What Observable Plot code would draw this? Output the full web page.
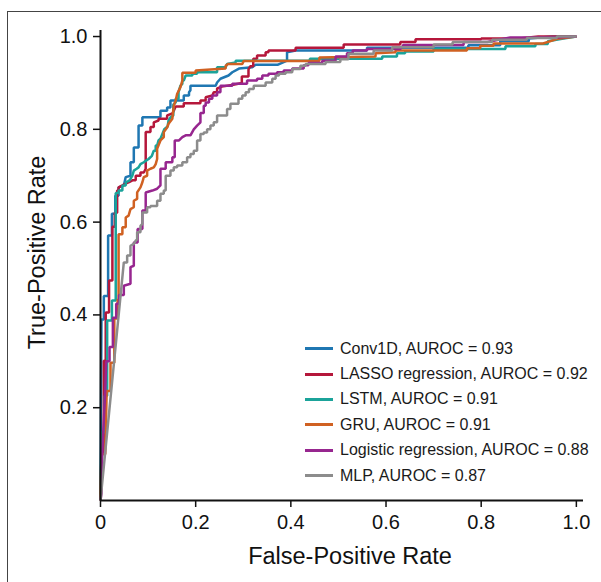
<!DOCTYPE html>
<html><head><meta charset="utf-8">
<script src="https://cdn.jsdelivr.net/npm/d3@7"></script>
<script src="https://cdn.jsdelivr.net/npm/@observablehq/plot@0.6"></script>
<style>
body{margin:0;background:#fff;}
#wrap{position:relative;width:601px;height:582px;overflow:hidden;font-family:"Liberation Sans",Arial,sans-serif;}
#border{position:absolute;left:7px;top:11px;width:800px;height:800px;border-left:1.5px solid #444;border-top:1.5px solid #444;pointer-events:none;}
#legend{position:absolute;left:305px;top:336px;}
.row{display:flex;align-items:center;height:25.4px;font-size:16px;color:#1a1a1a;white-space:nowrap;}
.sw{width:28px;height:3px;margin-right:7px;}
#chart{position:absolute;left:0;top:0;}
#chart svg g[aria-label$="tick label"]{font-size:20px !important;}
#chart svg g[aria-label$="tick label"] text{font-size:20px !important;}
</style></head>
<body><div id="wrap"><div id="chart"></div><div id="border"></div><div id="legend"></div></div>
<script>
const models = ["Conv1D","LASSO regression","LSTM","GRU","Logistic regression","MLP"];
const auroc = ["0.93","0.92","0.91","0.91","0.88","0.87"];
const colors = ["#1f77b2","#b5173b","#1ba39a","#d06122","#97268f","#8c8c8c"];
const xTicks = [0,0.2,0.4,0.6,0.8,1.0];
const yTicks = [0.2,0.4,0.6,0.8,1.0];

const conv1d = [[0,0],[0.002,0.39],[0.007,0.39],[0.007,0.441],[0.016,0.441],[0.016,0.571],[0.024,0.571],[0.024,0.618],[0.031,0.618],[0.031,0.657],[0.038,0.657],[0.038,0.675],[0.049,0.679],[0.053,0.697],[0.063,0.700],[0.063,0.729],[0.070,0.729],[0.070,0.761],[0.080,0.761],[0.080,0.808],[0.088,0.808],[0.088,0.826],[0.126,0.826],[0.126,0.840],[0.140,0.840],[0.140,0.847],[0.147,0.847],[0.147,0.862],[0.175,0.862],[0.175,0.873],[0.186,0.873],[0.186,0.880],[0.189,0.884],[0.189,0.894],[0.242,0.894],[0.245,0.901],[0.252,0.909],[0.269,0.916],[0.277,0.923],[0.291,0.931],[0.319,0.934],[0.326,0.939],[0.372,0.939],[0.392,0.948],[0.392,0.966],[0.410,0.970],[0.560,0.970],[0.560,0.976],[0.773,0.976],[0.773,0.981],[0.840,0.981],[0.840,0.990],[0.900,0.990],[0.900,0.996],[0.950,1],[1,1]];

const lasso = [[0,0],[0.002,0.10],[0.007,0.10],[0.007,0.301],[0.011,0.301],[0.011,0.405],[0.018,0.405],[0.018,0.474],[0.025,0.474],[0.025,0.590],[0.030,0.590],[0.030,0.620],[0.035,0.620],[0.035,0.668],[0.038,0.668],[0.038,0.675],[0.046,0.679],[0.053,0.683],[0.060,0.686],[0.067,0.690],[0.074,0.690],[0.074,0.700],[0.084,0.700],[0.084,0.707],[0.091,0.707],[0.095,0.715],[0.095,0.794],[0.105,0.794],[0.105,0.805],[0.112,0.805],[0.112,0.815],[0.122,0.819],[0.122,0.823],[0.140,0.823],[0.140,0.830],[0.151,0.834],[0.154,0.840],[0.158,0.849],[0.175,0.849],[0.175,0.856],[0.210,0.856],[0.210,0.862],[0.221,0.862],[0.221,0.869],[0.235,0.873],[0.238,0.880],[0.245,0.880],[0.245,0.888],[0.255,0.892],[0.279,0.896],[0.297,0.900],[0.297,0.914],[0.311,0.914],[0.311,0.929],[0.315,0.936],[0.321,0.936],[0.321,0.952],[0.329,0.952],[0.329,0.959],[0.347,0.959],[0.347,0.966],[0.353,0.966],[0.353,0.970],[0.410,0.970],[0.410,0.976],[0.511,0.976],[0.511,0.983],[0.630,0.983],[0.630,0.988],[0.662,0.988],[0.662,0.994],[0.800,0.994],[0.800,0.996],[0.880,0.996],[0.920,1],[1,1]];

const lstm = [[0,0],[0.002,0.147],[0.009,0.147],[0.009,0.226],[0.014,0.226],[0.014,0.388],[0.024,0.388],[0.024,0.431],[0.032,0.431],[0.032,0.663],[0.038,0.663],[0.038,0.668],[0.046,0.668],[0.046,0.679],[0.053,0.679],[0.053,0.686],[0.060,0.689],[0.063,0.693],[0.067,0.700],[0.070,0.711],[0.076,0.715],[0.080,0.718],[0.084,0.725],[0.091,0.729],[0.095,0.732],[0.101,0.736],[0.108,0.743],[0.112,0.754],[0.116,0.754],[0.116,0.765],[0.119,0.765],[0.122,0.776],[0.126,0.780],[0.130,0.790],[0.134,0.800],[0.141,0.806],[0.143,0.819],[0.147,0.826],[0.153,0.830],[0.153,0.853],[0.158,0.858],[0.158,0.866],[0.164,0.866],[0.164,0.880],[0.168,0.894],[0.172,0.898],[0.172,0.905],[0.175,0.905],[0.179,0.916],[0.193,0.916],[0.193,0.920],[0.203,0.920],[0.203,0.923],[0.245,0.923],[0.245,0.934],[0.263,0.934],[0.266,0.941],[0.284,0.944],[0.284,0.948],[0.440,0.948],[0.440,0.952],[0.592,0.952],[0.592,0.957],[0.623,0.957],[0.623,0.964],[0.640,0.964],[0.640,0.968],[0.700,0.968],[0.700,0.973],[0.851,0.973],[0.851,0.979],[0.914,0.979],[0.914,0.984],[0.940,0.984],[0.940,0.990],[0.970,0.995],[1,1]];

const gru = [[0,0],[0.002,0.10],[0.010,0.10],[0.013,0.236],[0.021,0.236],[0.021,0.297],[0.029,0.297],[0.029,0.392],[0.036,0.392],[0.036,0.433],[0.038,0.433],[0.038,0.574],[0.046,0.574],[0.046,0.589],[0.053,0.589],[0.053,0.610],[0.059,0.614],[0.063,0.628],[0.070,0.632],[0.070,0.646],[0.077,0.650],[0.077,0.664],[0.084,0.675],[0.088,0.686],[0.091,0.697],[0.098,0.700],[0.098,0.711],[0.105,0.715],[0.112,0.718],[0.116,0.725],[0.119,0.736],[0.119,0.758],[0.126,0.776],[0.133,0.783],[0.133,0.794],[0.140,0.804],[0.143,0.812],[0.151,0.823],[0.154,0.851],[0.158,0.862],[0.161,0.876],[0.168,0.891],[0.172,0.905],[0.172,0.922],[0.200,0.922],[0.200,0.927],[0.263,0.931],[0.263,0.937],[0.268,0.941],[0.298,0.941],[0.301,0.947],[0.460,0.947],[0.460,0.955],[0.578,0.957],[0.578,0.964],[0.620,0.966],[0.620,0.970],[0.770,0.970],[0.770,0.975],[0.798,0.975],[0.798,0.980],[0.826,0.980],[0.826,0.985],[0.930,0.985],[0.960,0.995],[1,1]];

const logistic = [[0,0],[0.002,0.015],[0.004,0.110],[0.010,0.237],[0.012,0.300],[0.019,0.300],[0.019,0.331],[0.026,0.331],[0.026,0.394],[0.033,0.394],[0.033,0.424],[0.039,0.424],[0.039,0.443],[0.049,0.443],[0.049,0.463],[0.063,0.467],[0.063,0.503],[0.070,0.506],[0.070,0.556],[0.078,0.556],[0.078,0.585],[0.088,0.585],[0.088,0.625],[0.095,0.625],[0.095,0.664],[0.109,0.668],[0.119,0.672],[0.126,0.679],[0.126,0.715],[0.137,0.715],[0.137,0.729],[0.151,0.729],[0.151,0.740],[0.156,0.740],[0.156,0.776],[0.165,0.776],[0.172,0.783],[0.179,0.787],[0.189,0.787],[0.196,0.800],[0.203,0.808],[0.210,0.815],[0.210,0.835],[0.217,0.835],[0.217,0.851],[0.221,0.851],[0.221,0.858],[0.228,0.858],[0.228,0.866],[0.235,0.866],[0.235,0.873],[0.245,0.873],[0.245,0.880],[0.252,0.880],[0.252,0.894],[0.277,0.894],[0.277,0.898],[0.308,0.898],[0.308,0.905],[0.329,0.905],[0.329,0.909],[0.340,0.909],[0.340,0.916],[0.353,0.916],[0.353,0.920],[0.371,0.920],[0.371,0.923],[0.385,0.923],[0.385,0.927],[0.403,0.927],[0.403,0.931],[0.427,0.931],[0.427,0.938],[0.437,0.938],[0.437,0.943],[0.466,0.943],[0.466,0.948],[0.494,0.948],[0.494,0.957],[0.518,0.957],[0.518,0.964],[0.530,0.964],[0.530,0.970],[0.560,0.970],[0.560,0.973],[0.630,0.973],[0.637,0.982],[0.763,0.982],[0.763,0.988],[0.813,0.988],[0.861,0.998],[0.956,0.998],[1,1]];

const mlp = [[0,0],[0.049,0.513],[0.056,0.513],[0.056,0.528],[0.063,0.528],[0.063,0.549],[0.070,0.553],[0.074,0.560],[0.077,0.563],[0.077,0.578],[0.084,0.578],[0.084,0.592],[0.088,0.596],[0.088,0.621],[0.098,0.621],[0.098,0.632],[0.105,0.632],[0.105,0.635],[0.119,0.635],[0.119,0.646],[0.126,0.646],[0.126,0.661],[0.133,0.661],[0.133,0.668],[0.137,0.668],[0.137,0.700],[0.147,0.700],[0.147,0.711],[0.154,0.711],[0.154,0.718],[0.161,0.718],[0.161,0.722],[0.172,0.722],[0.172,0.729],[0.182,0.729],[0.182,0.740],[0.189,0.740],[0.189,0.747],[0.196,0.747],[0.196,0.754],[0.203,0.754],[0.203,0.776],[0.210,0.776],[0.210,0.790],[0.217,0.790],[0.217,0.793],[0.224,0.793],[0.224,0.800],[0.231,0.800],[0.231,0.808],[0.238,0.808],[0.238,0.815],[0.245,0.815],[0.245,0.830],[0.266,0.830],[0.266,0.844],[0.273,0.844],[0.273,0.855],[0.290,0.855],[0.290,0.866],[0.298,0.866],[0.298,0.873],[0.305,0.873],[0.305,0.880],[0.312,0.880],[0.312,0.887],[0.322,0.887],[0.322,0.894],[0.347,0.894],[0.347,0.901],[0.361,0.901],[0.361,0.909],[0.368,0.909],[0.368,0.916],[0.375,0.916],[0.375,0.920],[0.389,0.920],[0.389,0.923],[0.403,0.923],[0.403,0.930],[0.420,0.930],[0.420,0.937],[0.431,0.937],[0.431,0.941],[0.473,0.941],[0.473,0.945],[0.504,0.945],[0.504,0.951],[0.521,0.951],[0.521,0.963],[0.574,0.963],[0.574,0.970],[0.613,0.970],[0.613,0.977],[0.700,0.977],[0.700,0.983],[0.740,0.983],[0.740,0.988],[0.823,0.988],[0.823,0.993],[0.896,0.993],[0.896,0.997],[0.959,0.997],[0.959,1],[1,1]];

const curves = [conv1d, lasso, lstm, gru, logistic, mlp];

const lineMarks = curves.map((c, i) =>
  Plot.line(c.map(([f, t]) => ({fpr: f, tpr: t})), {x: "fpr", y: "tpr", stroke: colors[i], strokeWidth: 2.5, strokeLinejoin: "miter", strokeLinecap: "butt"})
);

const chart = Plot.plot({
  width: 601, height: 582,
  marginLeft: 100, marginRight: 18, marginTop: 30, marginBottom: 82,
  x: {domain: [0, 1.015]},
  y: {domain: [0, 1.013]},
  style: {fontFamily: '"Liberation Sans", Arial, sans-serif', fontSize: "20px", background: "transparent", color: "#111"},
  marks: [
    ...lineMarks,
    Plot.axisX({ticks: xTicks, tickFormat: d => d === 0 ? "0" : d.toFixed(1), tickSize: 7, tickPadding: 7, fontSize: 20, label: null, strokeWidth: 1.5}),
    Plot.axisY({ticks: yTicks, tickFormat: d => d.toFixed(1), tickSize: 7, tickPadding: 6, fontSize: 20, label: null, strokeWidth: 1.5}),
    Plot.ruleY([0], {stroke: "#111", strokeWidth: 2}),
    Plot.ruleX([0], {stroke: "#111", strokeWidth: 2}),
    Plot.text(["False-Positive Rate"], {frameAnchor: "bottom", lineAnchor: "middle", textAnchor: "middle", dx: 8, dy: 56, fontSize: 23.5, fill: "#111"}),
    Plot.text(["True-Positive Rate"], {frameAnchor: "left", lineAnchor: "middle", textAnchor: "middle", rotate: -90, dx: -63, dy: -13, fontSize: 23.5, fill: "#111"})
  ]
});
document.getElementById("chart").appendChild(chart);

const legend = document.getElementById("legend");
models.forEach((m, i) => {
  const row = document.createElement("div");
  row.className = "row";
  const sw = document.createElement("span");
  sw.className = "sw";
  sw.style.background = colors[i];
  const tx = document.createElement("span");
  tx.textContent = `${m}, AUROC = ${auroc[i]}`;
  row.appendChild(sw); row.appendChild(tx);
  legend.appendChild(row);
});
</script>
</body></html>
